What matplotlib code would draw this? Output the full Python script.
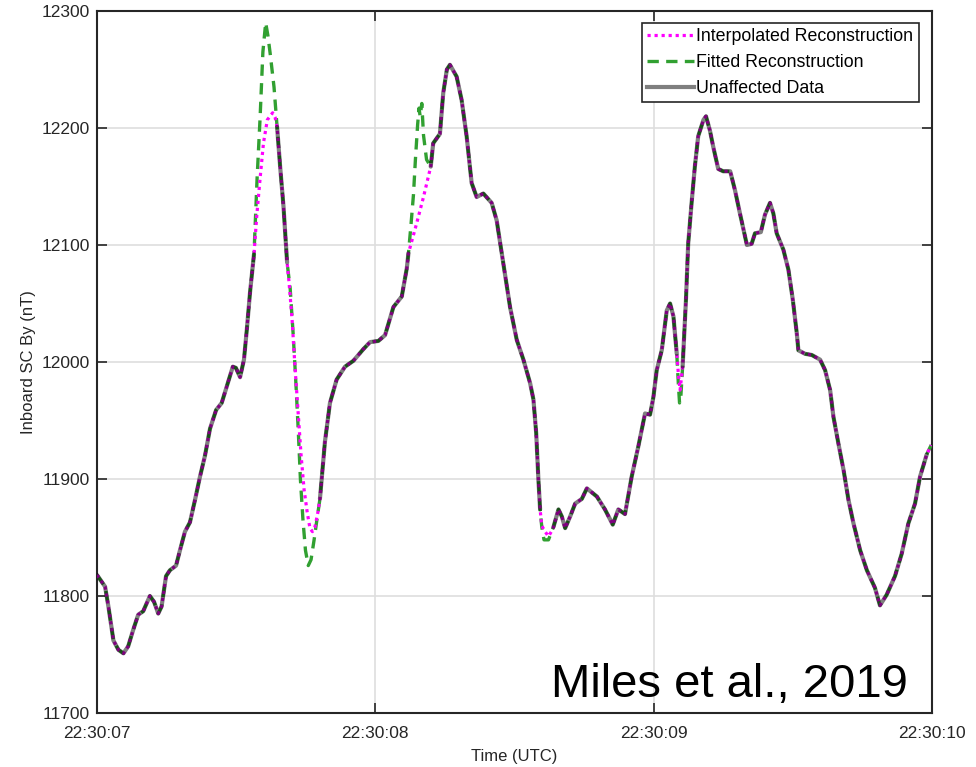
import numpy as np
import matplotlib
matplotlib.use('Agg')
from matplotlib import pyplot as plt
from matplotlib.lines import Line2D

plt.rcParams['font.family'] = ['Liberation Sans', 'DejaVu Sans']

nan = np.nan

# seconds after 22:30:07, Inboard SC By (nT); nan = gap in unaffected data
t_data = [0.000, 0.029, 0.041, 0.059, 0.077, 0.095, 0.112, 0.130, 0.148, 0.166,
          0.190, 0.205, 0.220, 0.232, 0.248, 0.262, 0.284, 0.298, 0.316, 0.334,
          0.352, 0.370, 0.388, 0.406, 0.428, 0.448, 0.466, 0.488, 0.499, 0.514,
          0.528, 0.538, 0.550, 0.564, nan,
          0.647, 0.658, 0.670, 0.683, nan,
          0.801, 0.819, 0.837, 0.861, 0.891, 0.921, 0.957, 0.981, 1.011, 1.035,
          1.065, 1.095, 1.113, 1.119, nan,
          1.199, 1.208, 1.232, 1.244, 1.257, 1.268, 1.292, 1.310, 1.328, 1.346,
          1.364, 1.388, 1.418, 1.436, 1.460, 1.484, 1.508, 1.532, 1.556, 1.568,
          1.578, 1.586, 1.592, nan,
          1.640, 1.658, 1.670, 1.682, 1.700, 1.718, 1.742, 1.760, 1.796, 1.825,
          1.853, 1.873, 1.897, 1.921, 1.945, 1.969, 1.987, 1.999, 2.011, 2.029,
          2.047, 2.059, 2.071, 2.083, nan,
          2.104, 2.116, 2.124, 2.137, 2.148, 2.160, 2.179, 2.188, 2.202, 2.214,
          2.232, 2.250, 2.275, 2.292, 2.310, 2.335, 2.352, 2.364, 2.385, 2.400,
          2.418, 2.430, 2.442, 2.466, 2.484, 2.500, 2.514, 2.520, 2.544, 2.568,
          2.598, 2.616, 2.634, 2.646, 2.664, 2.682, 2.700, 2.718, 2.742, 2.766,
          2.795, 2.813, 2.837, 2.867, 2.891, 2.915, 2.939, 2.957, 2.981]
b_data = [11818, 11808, 11791, 11762, 11754, 11751, 11757, 11771, 11784, 11787,
          11800, 11795, 11785, 11791, 11817, 11822, 11826, 11839, 11855, 11863,
          11882, 11902, 11920, 11943, 11959, 11965, 11979, 11996, 11995, 11987,
          12002, 12027, 12060, 12092, nan,
          12201, 12167, 12133, 12085, nan,
          11883, 11932, 11965, 11985, 11996, 12001, 12011, 12017, 12018, 12023,
          12047, 12056, 12080, 12093, nan,
          12167, 12187, 12195, 12230, 12250, 12254, 12244, 12224, 12193, 12153,
          12141, 12144, 12136, 12121, 12084, 12047, 12019, 12002, 11982, 11968,
          11939, 11899, 11874, nan,
          11859, 11874, 11868, 11858, 11868, 11879, 11883, 11892, 11885, 11874,
          11861, 11874, 11870, 11902, 11928, 11956, 11955, 11970, 11993, 12010,
          12044, 12050, 12039, 12007, nan,
          11996, 12053, 12101, 12138, 12167, 12193, 12207, 12210, 12198, 12184,
          12165, 12163, 12163, 12147, 12127, 12100, 12101, 12110, 12111, 12126,
          12136, 12127, 12110, 12096, 12079, 12053, 12025, 12010, 12007, 12006,
          12002, 11993, 11976, 11953, 11930, 11908, 11882, 11862, 11839, 11822,
          11807, 11792, 11801, 11817, 11836, 11862, 11879, 11902, 11921]

# interpolated reconstruction inside the gaps
t_interp_gap = [0.574, 0.586, 0.598, 0.612, 0.631, 0.640,
                0.690, 0.701, 0.711, 0.722, 0.733, 0.744, 0.755, 0.765, 0.774, 0.783, 0.794,
                1.149, 1.173,
                1.598, 1.610, 1.622, 1.635,
                2.089, 2.095,
                2.997]
b_interp_gap = [12125, 12157, 12187, 12207, 12213, 12209,
                12068, 12036, 11997, 11959, 11921, 11891, 11872, 11858, 11855, 11859, 11872,
                12119, 12141,
                11860, 11855, 11851, 11856,
                11989, 11976,
                11929]

# fitted reconstruction inside the gaps
t_fit_gap = [0.575, 0.586, 0.596, 0.606, 0.614, 0.622, 0.636,
             0.694, 0.705, 0.715, 0.723, 0.731, 0.740, 0.749, 0.759, 0.769, 0.780, 0.790,
             1.128, 1.137, 1.144, 1.152, 1.157, 1.161, 1.167, 1.173, 1.184,
             1.598, 1.606, 1.622, 1.635,
             2.089, 2.093, 2.098,
             2.997]
b_fit_gap = [12156, 12209, 12265, 12290, 12279, 12264, 12235,
             12063, 12023, 11980, 11942, 11899, 11865, 11839, 11826, 11831, 11848, 11865,
             12117, 12143, 12173, 12203, 12217, 12210, 12221, 12194, 12173,
             11859, 11848, 11848, 11856,
             11980, 11965, 11972,
             11929]

x_ticks = [0, 1, 2, 3]
x_labels = ['22:30:07', '22:30:08', '22:30:09', '22:30:10']
y_ticks = [11700, 11800, 11900, 12000, 12100, 12200, 12300]


def merge(t_gap, b_gap):
    t = np.array(t_data)
    b = np.array(b_data)
    ok = ~np.isnan(t)
    tt = np.concatenate([t[ok], t_gap])
    bb = np.concatenate([b[ok], b_gap])
    order = np.argsort(tt)
    return tt[order], bb[order]


t_int, b_int = merge(t_interp_gap, b_interp_gap)
t_fit, b_fit = merge(t_fit_gap, b_fit_gap)

fig = plt.figure(figsize=(9.76, 7.67), dpi=100)
ax = fig.add_axes([97/976, 54/767, 835/976, 702/767])

green = '#31a031'
magenta = '#ff00ff'
fit_style = dict(color=green, lw=2.4, linestyle=(0, (3.4, 2.2)))
int_style = dict(color=magenta, lw=2.3, linestyle=(0, (1, 1.2)))
dat_style = dict(color='black', lw=3.0, alpha=0.5)

ax.plot(t_fit, b_fit, zorder=3, solid_joinstyle='round', **fit_style)
ax.plot(t_int, b_int, zorder=4, **int_style)
ax.plot(t_data, b_data, zorder=5, solid_capstyle='round',
        solid_joinstyle='round', **dat_style)

ax.set_xlim(0, 3)
ax.set_ylim(11700, 12300)
ax.set_xticks(x_ticks)
ax.set_xticklabels(x_labels)
ax.set_yticks(y_ticks)
ax.grid(True, color='#dedede', lw=1.2)
ax.set_axisbelow(True)
ax.tick_params(direction='in', length=7, width=1.2, colors='#262626',
               labelsize=12.5, top=True, right=True)
ax.tick_params(axis='x', pad=9)
ax.tick_params(axis='y', pad=5)
for s in ax.spines.values():
    s.set_color('#262626')
    s.set_linewidth(1.5)

ax.set_xlabel('Time (UTC)', fontsize=12, color='#262626', labelpad=6)
ax.set_ylabel('Inboard SC By (nT)', fontsize=12, color='#262626')

handles = [Line2D([], [], **int_style),
           Line2D([], [], **fit_style),
           Line2D([], [], **dat_style)]
leg = ax.legend(handles, ['Interpolated Reconstruction', 'Fitted Reconstruction', 'Unaffected Data'],
                loc='upper right', bbox_to_anchor=(0.984, 0.983), borderaxespad=0,
                fontsize=12.8, fancybox=False, framealpha=1, edgecolor='#262626',
                handlelength=2.6, handletextpad=0.15, labelspacing=0.5,
                borderpad=0.3)
leg.get_frame().set_linewidth(1.2)
leg.set_zorder(10)

fig.text(908/976, 70/767, 'Miles et al., 2019', fontsize=34, ha='right',
         va='baseline', color='black')

fig.savefig('out.png', dpi=100)
